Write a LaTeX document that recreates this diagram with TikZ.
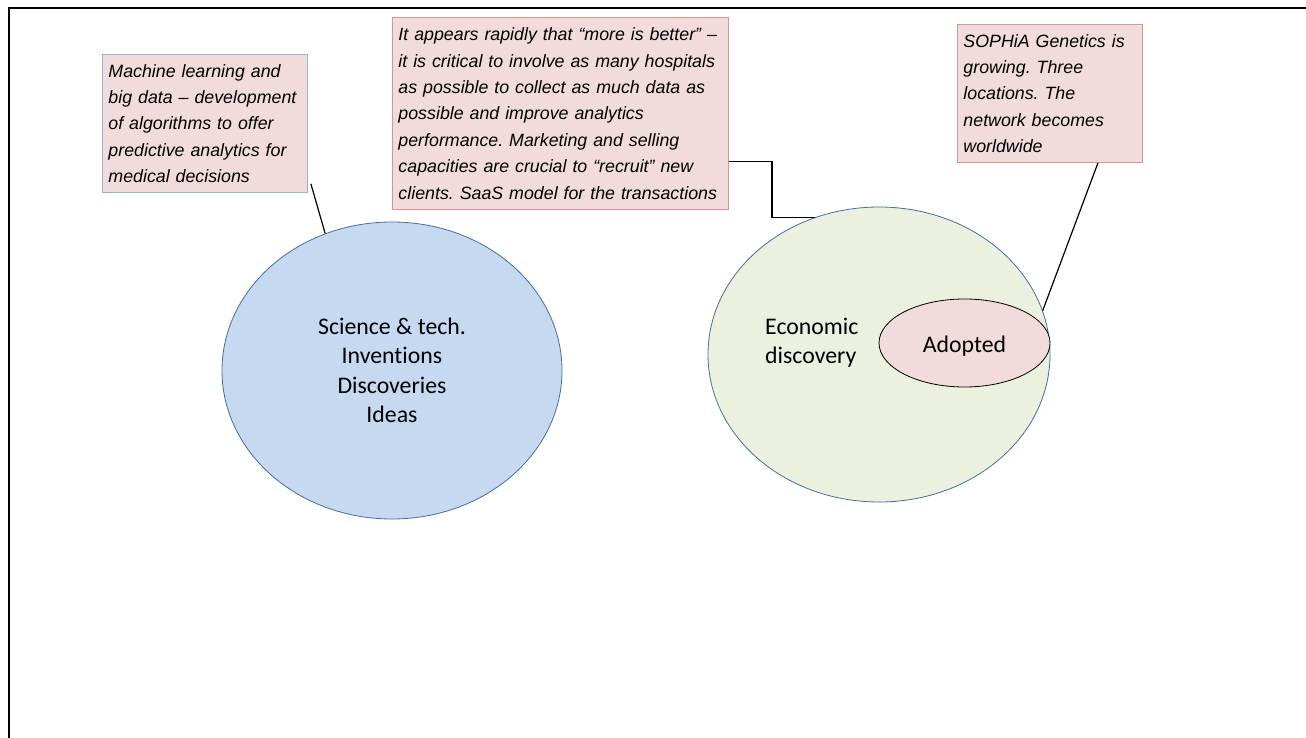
\documentclass[tikz,border=0pt]{standalone}
\usepackage{fontspec}
\setmainfont{Carlito}[Ligatures=NoCommon]
\newfontfamily\calloutfont{Liberation Sans}
\usetikzlibrary{calc,shapes.geometric}
\definecolor{notefill}{HTML}{F2DCDB}
\definecolor{noteblue}{HTML}{95B3D7}
\definecolor{notered}{HTML}{D99694}
\definecolor{scifill}{HTML}{C6D9F1}
\definecolor{econfill}{HTML}{EBF1DE}
\definecolor{ringblue}{HTML}{41719C}
\frenchspacing

\begin{document}
\begin{tikzpicture}[x=1pt,y=-1pt,
  note/.style={draw=notered, fill=notefill, line width=0.9pt, anchor=north west,
    inner xsep=6pt, inner ysep=0pt, align=left,
    font=\calloutfont\itshape\fontsize{17.8}{26.4}\selectfont},
  bubble/.style={ellipse, draw=ringblue, line width=0.8pt, inner sep=0pt,
    font=\fontsize{23.8}{29.4}\selectfont},
  link/.style={draw=black, line width=1.2pt}
]
\useasboundingbox (0,0) rectangle (1306,738);
\clip (0,0) rectangle (1306,738);
\fill[white] (0,0) rectangle (1306,738);

% page frame, running off the right and bottom edges
\draw[line width=2pt] (8.5,8.5) rectangle (1340,770);

% circles of the model
\node[bubble, fill=scifill, minimum width=340pt, minimum height=297pt, align=center]
  (sci) at (392,370.5) {Science \& tech.\\Inventions\\Discoveries\\Ideas};
\node[bubble, fill=econfill, minimum width=342pt, minimum height=295pt]
  (econ) at (879,354.5) {};
\node[bubble, draw=black, fill=notefill, minimum width=171pt, minimum height=88pt,
  text height=22pt, text depth=4pt]
  (adopt) at (964.5,343) {Adopted};
\node[anchor=west, inner sep=0pt, align=left, font=\fontsize{23.8}{29.4}\selectfont]
  (econlabel) at (765,343) {Economic\\discovery};

% callouts
\node[note, draw=noteblue, minimum width=205pt, minimum height=138pt, text width=193pt]
  (ml) at (102,54) {Machine learning and\\big data – development\\of algorithms to offer\\predictive analytics for\\medical decisions};
\node[note, minimum width=336pt, minimum height=192pt, text width=324pt]
  (more) at (392,17) {It appears rapidly that “more is better” –\\it is critical to involve as many hospitals\\as possible to collect as much data as\\possible and improve analytics\\performance. Marketing and selling\\capacities are crucial to “recruit” new\\clients. SaaS model for the transactions};
\node[note, minimum width=185pt, minimum height=138pt, text width=173pt]
  (sophia) at (957,24) {SOPHiA Genetics is\\growing. Three\\locations. The\\network becomes\\worldwide};

% leader lines
\draw[link] ($(ml.south east)+(3,-9)$) -- (sci.116.7);
\draw[link] ($(more.south east)+(0,-48)$) -- ++(43,0) |- (econ.115);
\draw[link] ($(sophia.south)+(48,0)$) -- (econ.15.8);
\end{tikzpicture}
\end{document}
